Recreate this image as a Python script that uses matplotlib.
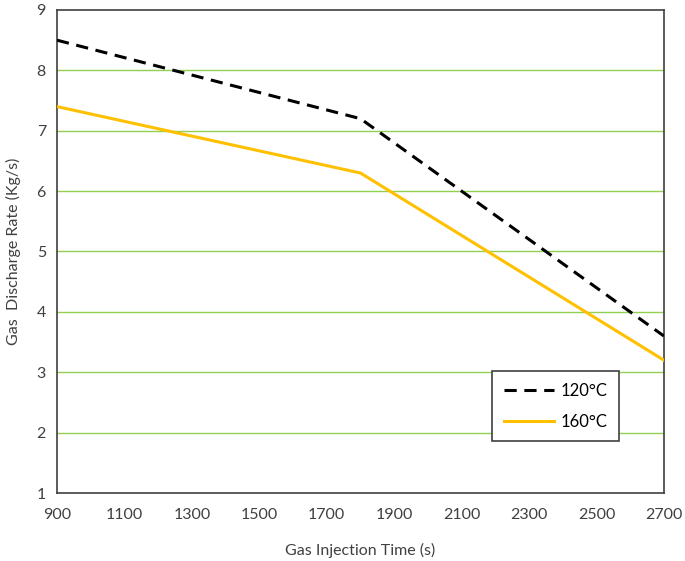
import matplotlib
matplotlib.use('Agg')
import matplotlib.pyplot as plt

plt.rcParams['font.family'] = ['Lato', 'DejaVu Sans']

# data
time_s = [900, 1800, 2700]
rate_120 = [8.5, 7.2, 3.6]
rate_160 = [7.4, 6.3, 3.2]
x_ticks = [900, 1100, 1300, 1500, 1700, 1900, 2100, 2300, 2500, 2700]
y_ticks = [1, 2, 3, 4, 5, 6, 7, 8, 9]

fig = plt.figure(figsize=(6.85, 5.61), dpi=100)
ax = fig.add_axes([0.0832, 0.1212, 0.886, 0.861])

for y in y_ticks[1:-1]:
    ax.axhline(y, color='#92D050', linewidth=1.0, zorder=1)

ax.plot(time_s, rate_120, color='black', linestyle=(0, (4, 2.5)), linewidth=2.2,
        label='120°C', zorder=3)
ax.plot(time_s, rate_160, color='#FFC000', linewidth=2.2, label='160°C', zorder=3)

ax.set_xlim(900, 2700)
ax.set_ylim(1, 9)
ax.set_xticks(x_ticks)
ax.set_yticks(y_ticks)
ax.tick_params(length=0, labelsize=11.5, pad=8, colors='#404040')
ax.tick_params(axis='x', pad=11)
for s in ax.spines.values():
    s.set_color('#404040')
    s.set_linewidth(1.2)

ax.set_xlabel('Gas Injection Time (s)', fontsize=11.5, color='#404040', labelpad=15)
ax.set_ylabel('Gas  Discharge Rate (Kg/s)', fontsize=11.5, color='#404040', labelpad=11)

leg = ax.legend(loc='upper left', bbox_to_anchor=(0.717, 0.2526),
                borderaxespad=0, fontsize=12, fancybox=False, framealpha=1,
                edgecolor='#404040', handlelength=3.0, handletextpad=0.4,
                borderpad=0.7, labelspacing=0.9)
leg.get_frame().set_linewidth(1.2)

fig.savefig('out.png', dpi=100)
